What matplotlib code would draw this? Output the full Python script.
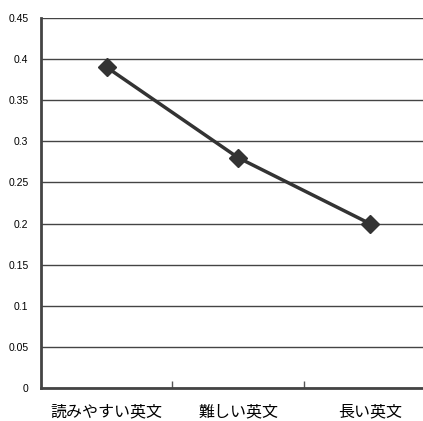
import matplotlib.pyplot as plt

plt.rcParams['font.family'] = ['Noto Sans CJK JP', 'DejaVu Sans']

# 文章の種類ごとの値
categories = ['読みやすい英文', '難しい英文', '長い英文']
values = [0.39, 0.28, 0.20]
yticks = [0, 0.05, 0.1, 0.15, 0.2, 0.25, 0.3, 0.35, 0.4, 0.45]
ytick_labels = ['0', '0.05', '0.1', '0.15', '0.2', '0.25', '0.3', '0.35', '0.4', '0.45']

fig = plt.figure(figsize=(4.23, 4.21), dpi=100)
ax = fig.add_axes([0.0969, 0.0784, 0.9326, 0.8789])

x = list(range(len(categories)))
ax.plot(x, values, color='#333333', linewidth=2.5, marker='D',
        markersize=9, markerfacecolor='#333333', markeredgecolor='#333333', zorder=3)

ax.set_xlim(-0.5, 2.5)
ax.set_ylim(0, 0.45)
ax.set_yticks(yticks)
ax.set_yticklabels(ytick_labels, fontsize=7.5, family='Liberation Sans')
ax.tick_params(axis='y', length=0, pad=9)

# カテゴリの境目に目盛り、ラベルは中央に
ax.set_xticks([0.5, 1.5])
ax.set_xticklabels(['', ''])
ax.set_xticks(x, minor=True)
ax.set_xticklabels(categories, minor=True, fontsize=11.5)
ax.tick_params(axis='x', which='major', direction='in', length=5, width=1, color='#555555')
ax.tick_params(axis='x', which='minor', length=0, pad=11)

ax.yaxis.grid(True, color='#444444', linewidth=1)
ax.set_axisbelow(True)

for side in ['top', 'right']:
    ax.spines[side].set_visible(False)
ax.spines['left'].set_color('#444444')
ax.spines['left'].set_linewidth(2)
ax.spines['bottom'].set_color('#444444')
ax.spines['bottom'].set_linewidth(2)

fig.savefig('out.png', dpi=100)
